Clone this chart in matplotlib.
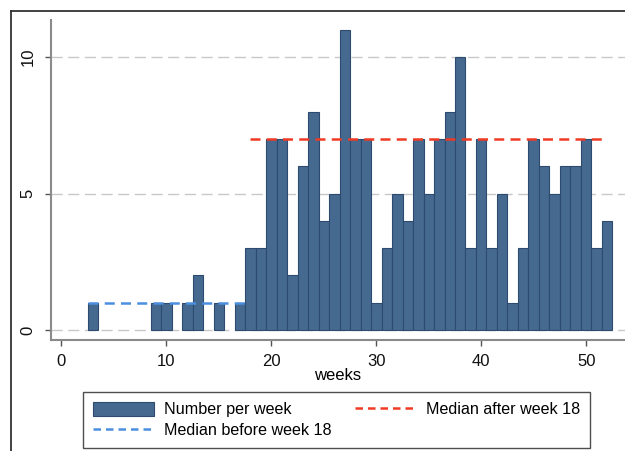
import numpy as np
import matplotlib
matplotlib.use('Agg')
import matplotlib.pyplot as plt
from matplotlib.lines import Line2D

plt.rcParams['font.family'] = ['Liberation Sans', 'DejaVu Sans']

# weekly counts (weeks 1..52)
weeks = np.arange(1, 53)
counts = [0, 0, 1, 0, 0, 0, 0, 0, 1, 1,
          0, 1, 2, 0, 1, 0, 1, 3, 3, 7,
          7, 2, 6, 8, 4, 5, 11, 7, 7, 1,
          3, 5, 4, 7, 5, 7, 8, 10, 3, 7,
          3, 5, 1, 3, 7, 6, 5, 6, 6, 7,
          3, 4]

median_before_x = [2.5, 17.5]
median_before = 1
median_after_x = [18, 52]
median_after = 7

xticks = [0, 10, 20, 30, 40, 50]
yticks = [0, 5, 10]

bar_color = '#46698f'
bar_edge = '#2d4b6f'
fs = 12

fig = plt.figure(figsize=(6.25, 4.51), dpi=100, facecolor='white')
ax = fig.add_axes([51 / 625, (451 - 340) / 451, 574 / 625, 320 / 451])

counts = np.array(counts)
nz = counts > 0
ax.bar(weeks[nz], counts[nz], width=1.0, color=bar_color, edgecolor=bar_edge,
       linewidth=0.8, zorder=2)
ax.plot(median_before_x, [median_before] * 2, color='#4a8fe0',
        linestyle=(0, (4, 2.5)), linewidth=1.8, zorder=3)
ax.plot(median_after_x, [median_after] * 2, color='#f03a24',
        linestyle=(0, (4, 2.5)), linewidth=1.8, zorder=3)

ax.set_xlim(-1.0, 53.7)
ax.set_ylim(-0.37, 11.36)
ax.set_xticks(xticks)
ax.set_yticks(yticks)
ax.set_yticklabels([str(v) for v in yticks], rotation=90, va='center')
ax.tick_params(axis='both', direction='out', length=4, width=1,
               color='#555555', labelsize=fs, labelcolor='#111111')
ax.tick_params(axis='x', pad=6)
ax.tick_params(axis='y', pad=7)
ax.set_xlabel('weeks', fontsize=fs, labelpad=-1)

ax.yaxis.grid(True, linestyle=(0, (8, 4)), color='#c8c8c8', linewidth=1, zorder=0)
ax.set_axisbelow(True)
for side in ['top', 'right']:
    ax.spines[side].set_visible(False)
for side in ['left', 'bottom']:
    ax.spines[side].set_color('#8a8a8a')
    ax.spines[side].set_linewidth(1.5)

# outer frame of the graph region
fx = 11 / 625
fy = 1 - 11 / 451
fig.add_artist(Line2D([fx, fx], [0, fy], transform=fig.transFigure,
                      color='#333333', linewidth=1.3))
fig.add_artist(Line2D([fx, 1], [fy, fy], transform=fig.transFigure,
                      color='#333333', linewidth=1.3))

handles = [
    plt.Rectangle((0, 0), 1, 1, facecolor=bar_color, edgecolor=bar_edge, linewidth=0.8),
    Line2D([], [], color='#4a8fe0', linestyle=(0, (3, 2)), linewidth=1.8),
    Line2D([], [], color='#f03a24', linestyle=(0, (3, 2)), linewidth=1.8),
]
labels = ['Number per week', 'Median before week 18', 'Median after week 18']
leg = fig.legend(handles, labels, ncol=2, loc='upper left',
                 bbox_to_anchor=(83 / 625, 1 - 392 / 451),
                 fontsize=11.6, frameon=True, fancybox=False, borderaxespad=0,
                 handlelength=3.8, handleheight=1.0, handletextpad=0.6,
                 columnspacing=1.5, labelspacing=0.3, borderpad=0.6)
leg.get_frame().set_edgecolor('#222222')
leg.get_frame().set_linewidth(1.0)

fig.savefig('out.png', dpi=100, facecolor='white')
